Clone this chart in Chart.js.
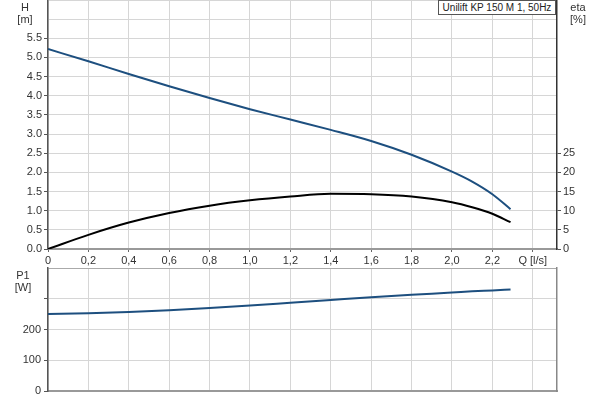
<!DOCTYPE html>
<html>
<head>
<meta charset="utf-8">
<script src="https://cdn.jsdelivr.net/npm/chart.js@4"></script>
<style>
    body { margin: 0; background: #fff; font-family: 'Liberation Sans', Arial, sans-serif; }
    #wrap { position: relative; width: 600px; height: 400px; overflow: hidden; }
    #topBox { position: absolute; left: 0; top: 0; width: 600px; height: 268px; }
    #bottomBox { position: absolute; left: 0; top: 262px; width: 600px; height: 138px; }
    .unit { position: absolute; font-size: 11px; color: #333; text-align: center; width: 30px; line-height: 12px; }
    #title { position: absolute; left: 438px; top: 0; width: 118px; height: 15px; border: 1px solid #555; background: #fff;
             font-size: 10px; color: #222; line-height: 14px; text-align: center; white-space: nowrap; box-sizing: border-box; }
</style>
</head>
<body>
<div id="wrap">
    <div id="topBox"><canvas id="curveChart"></canvas></div>
    <div id="bottomBox"><canvas id="powerChart"></canvas></div>
    <div class="unit" style="left:10px;top:1px">H<br>[m]</div>
    <div class="unit" style="left:563px;top:1px">eta<br>[%]</div>
    <div class="unit" style="left:8px;top:269px">P1<br>[W]</div>
    <div id="title">Unilift KP 150 M 1, 50Hz</div>
</div>
<script>
// pump curve values
var flowQ = [0, 0.2, 0.4, 0.6, 0.8, 1.0, 1.2, 1.4, 1.6, 1.8, 2.0, 2.1, 2.2, 2.29];
var headH = [5.22, 4.90, 4.57, 4.25, 3.94, 3.65, 3.38, 3.11, 2.82, 2.46, 2.02, 1.76, 1.43, 1.04];
var effEta = [0, 3.7, 6.9, 9.4, 11.3, 12.7, 13.7, 14.4, 14.3, 13.7, 12.2, 10.9, 9.2, 7.0];
var powerP1 = [250, 253, 257, 263, 270, 278, 287, 296, 305, 313, 320, 324, 327, 330];

var headTicks = [0, 0.5, 1.0, 1.5, 2.0, 2.5, 3.0, 3.5, 4.0, 4.5, 5.0, 5.5];
var etaTicks = [0, 5, 10, 15, 20, 25];
var powerTicks = [0, 100, 200];

function pairs(xs, ys) {
    return xs.map(function(x, i) { return { x: x, y: ys[i] }; });
}

// fixed axis sizes so the plot area sits where the datasheet has it
function fixSize(w, h) {
    return function(s) {
        if (w !== null) s.width = w;
        if (h !== null) s.height = h;
        s.paddingTop = 0;
        s.paddingBottom = 0;
        s.paddingLeft = 0;
        s.paddingRight = 0;
    };
}

window.onload = function() {
    Chart.defaults.font.family = "'Liberation Sans', Arial, sans-serif";
    Chart.defaults.font.size = 11;
    Chart.defaults.color = '#333';
    Chart.defaults.animation = false;

    var gridColor = '#d6d6d6';
    var lineBlue = '#1d4f7f';

    var ctx = document.getElementById('curveChart').getContext('2d');
    new Chart(ctx, {
        type: 'line',
        data: {
            datasets: [{
                label: 'H',
                data: pairs(flowQ, headH),
                yAxisID: 'y',
                borderColor: lineBlue,
                borderWidth: 2,
                pointRadius: 0,
                cubicInterpolationMode: 'monotone'
            }, {
                label: 'eta',
                data: pairs(flowQ, effEta),
                yAxisID: 'y2',
                borderColor: '#000',
                borderWidth: 2,
                pointRadius: 0,
                cubicInterpolationMode: 'monotone'
            }]
        },
        options: {
            responsive: true,
            maintainAspectRatio: false,
            layout: { autoPadding: false, padding: 0 },
            plugins: { legend: { display: false }, tooltip: { enabled: false } },
            scales: {
                x: {
                    type: 'linear',
                    min: 0,
                    max: 2.52,
                    afterFit: fixSize(null, 19),
                    border: { color: '#999', width: 2 },
                    grid: { color: gridColor, tickLength: 3, tickColor: '#666' },
                    ticks: {
                        stepSize: 0.2,
                        includeBounds: false,
                        padding: 2,
                        maxRotation: 0,
                        autoSkip: false,
                        callback: function(v) {
                            if (v > 2.3) return 'Q [l/s]';
                            return v === 0 ? '0' : v.toFixed(1).replace('.', ',');
                        }
                    }
                },
                y: {
                    position: 'left',
                    min: 0,
                    max: 6.5,
                    afterFit: fixSize(48, null),
                    border: { color: '#555', width: 1.5 },
                    grid: {
                        color: gridColor,
                        tickLength: 4,
                        tickColor: function(c) { return c.tick && c.tick.value <= headTicks[headTicks.length - 1] ? '#555' : 'rgba(0,0,0,0)'; }
                    },
                    ticks: {
                        stepSize: 0.5,
                        padding: 2,
                        callback: function(v) { return v <= headTicks[headTicks.length - 1] ? v.toFixed(1) : ''; }
                    }
                },
                y2: {
                    position: 'right',
                    min: 0,
                    max: 65,
                    afterFit: fixSize(43, null),
                    border: { color: '#333', width: 1.5 },
                    grid: {
                        drawOnChartArea: false,
                        tickLength: 4,
                        tickColor: function(c) { return c.tick && c.tick.value <= etaTicks[etaTicks.length - 1] ? '#555' : 'rgba(0,0,0,0)'; }
                    },
                    ticks: {
                        stepSize: 5,
                        padding: 2,
                        callback: function(v) { return v <= etaTicks[etaTicks.length - 1] ? String(v) : ''; }
                    }
                }
            }
        }
    });

    var powerCtx = document.getElementById('powerChart').getContext('2d');
    new Chart(powerCtx, {
        type: 'line',
        data: {
            datasets: [{
                label: 'P1',
                data: pairs(flowQ, powerP1),
                borderColor: lineBlue,
                borderWidth: 2,
                pointRadius: 0,
                cubicInterpolationMode: 'monotone'
            }]
        },
        options: {
            responsive: true,
            maintainAspectRatio: false,
            layout: { autoPadding: false, padding: { top: 6, bottom: 0 } },
            plugins: { legend: { display: false }, tooltip: { enabled: false } },
            scales: {
                x: {
                    type: 'linear',
                    min: 0,
                    max: 2.52,
                    afterFit: fixSize(null, 9),
                    border: { color: '#999', width: 2 },
                    grid: { color: gridColor, drawTicks: false },
                    ticks: { display: false, stepSize: 0.2, includeBounds: false }
                },
                y: {
                    position: 'left',
                    min: 0,
                    max: 400,
                    afterFit: fixSize(48, null),
                    border: { color: '#555', width: 1.5 },
                    grid: {
                        color: function(c) { return c.tick && c.tick.value === 400 ? '#aaa' : gridColor; },
                        tickLength: 4,
                        tickColor: function(c) { return c.tick && c.tick.value <= 300 ? '#555' : 'rgba(0,0,0,0)'; }
                    },
                    ticks: {
                        stepSize: 100,
                        padding: 3,
                        callback: function(v) { return powerTicks.indexOf(v) >= 0 ? String(v) : ''; }
                    }
                },
                yr: {
                    position: 'right',
                    min: 0,
                    max: 400,
                    afterFit: fixSize(43, null),
                    border: { color: '#888', width: 1.5 },
                    grid: { drawOnChartArea: false, drawTicks: false },
                    ticks: { display: false }
                }
            }
        }
    });
};
</script>
</body>
</html>
